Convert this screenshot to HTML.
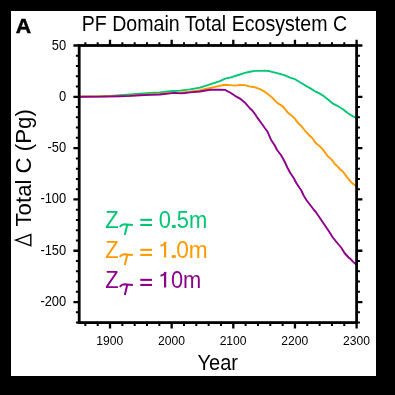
<!DOCTYPE html>
<html><head><meta charset="utf-8"><style>
html,body{margin:0;padding:0;background:#000;width:395px;height:395px;overflow:hidden}
svg{display:block;will-change:transform}
text{font-family:"Liberation Sans",sans-serif}
</style></head><body>
<svg width="395" height="395" viewBox="0 0 395 395">
<rect x="0" y="0" width="395" height="395" fill="#000"/>
<rect x="11" y="11" width="365" height="365" fill="#fff"/>
<text transform="translate(15.85,33.3) scale(1.035,1)" font-size="20.6" font-weight="bold" fill="#000" stroke="#000" stroke-width="0.45">A</text>
<text transform="translate(81.7,30.6) scale(0.9163,1)" font-size="21.4" fill="#000">PF Domain Total Ecosystem C</text>
<g fill="none" stroke-linejoin="round" stroke-linecap="round" stroke-width="1.9">
<polyline points="79.5,96.6 100.0,96.4 110.0,96.0 120.0,95.2 130.0,94.5 140.0,93.8 150.0,93.0 160.0,92.5 170.0,91.3 180.0,90.6 190.0,89.4 200.0,87.6 210.0,84.3 220.0,81.1 225.0,78.6 230.0,77.6 240.0,74.5 245.0,72.9 250.0,71.8 255.0,70.9 260.0,70.9 265.0,70.6 270.0,71.3 275.0,72.6 280.0,73.8 285.0,75.3 290.0,77.7 295.0,79.2 300.0,82.2 305.0,85.3 310.0,88.1 315.0,91.3 318.0,92.6 323.0,95.6 328.0,99.6 333.0,103.7 338.0,106.2 343.0,109.3 348.0,113.3 353.0,116.4 356.5,117.8" stroke="#00c674"/>
<polyline points="79.5,96.7 100.0,96.5 120.0,96.0 130.0,95.7 140.0,95.0 150.0,94.4 160.0,94.0 170.0,92.9 180.0,92.6 190.0,91.6 200.0,90.2 210.0,88.0 215.0,86.9 220.0,85.8 225.0,84.7 230.0,85.1 235.0,85.6 240.0,85.0 245.0,85.1 250.0,86.6 255.0,87.3 260.0,89.1 265.0,91.9 270.0,95.8 272.5,97.8 275.0,100.6 277.5,103.1 280.0,104.6 282.5,106.1 285.0,109.2 287.5,112.2 290.0,114.5 292.5,116.3 295.0,118.9 297.5,122.4 300.0,124.7 302.5,127.5 305.0,130.8 307.0,132.9 310.0,136.1 312.5,138.2 315.0,142.2 317.5,144.6 320.0,146.4 322.5,149.2 325.0,152.3 327.5,156.1 330.0,158.1 332.5,160.7 335.0,164.2 337.5,166.4 340.5,169.8 343.0,171.8 345.5,175.1 348.0,178.4 350.5,181.4 353.0,183.9 356.5,186.0" stroke="#ff9a00"/>
<polyline points="79.5,96.8 100.0,96.6 120.0,96.2 130.0,95.9 140.0,95.2 150.0,94.9 160.0,94.5 170.0,93.4 175.0,92.9 180.0,93.4 185.0,93.0 190.0,92.4 200.0,91.5 210.0,89.7 220.0,89.6 225.0,89.9 230.0,92.5 235.0,95.8 240.0,98.6 245.0,102.7 250.0,108.5 252.5,110.7 255.0,114.1 257.5,117.9 260.0,121.3 262.5,124.7 265.0,128.3 267.5,131.6 271.1,140.0 274.5,145.0 277.1,150.0 280.9,155.0 282.7,158.0 285.3,163.0 287.6,168.0 290.3,173.0 293.7,178.0 296.3,183.0 299.6,188.0 301.1,190.0 303.4,195.0 306.4,200.0 310.2,205.0 314.0,210.0 315.8,212.0 319.2,217.0 322.6,222.0 326.0,227.0 329.4,232.0 332.8,237.5 337.3,243.0 341.5,248.0 344.5,253.0 349.1,258.0 350.0,258.3 352.9,261.6 356.0,264.3" stroke="#8c008c"/>
</g>
<path d="M73.40 302.07H79.20M356.60 302.07H362.40M73.40 250.76H79.20M356.60 250.76H362.40M73.40 199.44H79.20M356.60 199.44H362.40M73.40 148.13H79.20M356.60 148.13H362.40M73.40 96.81H79.20M356.60 96.81H362.40M73.40 45.50H79.20M356.60 45.50H362.40M110.02 322.60V328.40M110.02 39.70V45.50M171.67 322.60V328.40M171.67 39.70V45.50M233.31 322.60V328.40M233.31 39.70V45.50M294.96 322.60V328.40M294.96 39.70V45.50M356.60 322.60V328.40M356.60 39.70V45.50" stroke="#000" stroke-width="2.3" fill="none"/><path d="M75.90 322.60H79.20M356.60 322.60H359.90M75.90 312.34H79.20M356.60 312.34H359.90M75.90 291.81H79.20M356.60 291.81H359.90M75.90 281.55H79.20M356.60 281.55H359.90M75.90 271.29H79.20M356.60 271.29H359.90M75.90 261.02H79.20M356.60 261.02H359.90M75.90 240.50H79.20M356.60 240.50H359.90M75.90 230.23H79.20M356.60 230.23H359.90M75.90 219.97H79.20M356.60 219.97H359.90M75.90 209.71H79.20M356.60 209.71H359.90M75.90 189.18H79.20M356.60 189.18H359.90M75.90 178.92H79.20M356.60 178.92H359.90M75.90 168.66H79.20M356.60 168.66H359.90M75.90 158.39H79.20M356.60 158.39H359.90M75.90 137.87H79.20M356.60 137.87H359.90M75.90 127.60H79.20M356.60 127.60H359.90M75.90 117.34H79.20M356.60 117.34H359.90M75.90 107.08H79.20M356.60 107.08H359.90M75.90 86.55H79.20M356.60 86.55H359.90M75.90 76.29H79.20M356.60 76.29H359.90M75.90 66.03H79.20M356.60 66.03H359.90M75.90 55.76H79.20M356.60 55.76H359.90M85.36 322.60V325.90M85.36 42.20V45.50M97.69 322.60V325.90M97.69 42.20V45.50M122.35 322.60V325.90M122.35 42.20V45.50M134.68 322.60V325.90M134.68 42.20V45.50M147.01 322.60V325.90M147.01 42.20V45.50M159.34 322.60V325.90M159.34 42.20V45.50M184.00 322.60V325.90M184.00 42.20V45.50M196.32 322.60V325.90M196.32 42.20V45.50M208.65 322.60V325.90M208.65 42.20V45.50M220.98 322.60V325.90M220.98 42.20V45.50M245.64 322.60V325.90M245.64 42.20V45.50M257.97 322.60V325.90M257.97 42.20V45.50M270.30 322.60V325.90M270.30 42.20V45.50M282.63 322.60V325.90M282.63 42.20V45.50M307.28 322.60V325.90M307.28 42.20V45.50M319.61 322.60V325.90M319.61 42.20V45.50M331.94 322.60V325.90M331.94 42.20V45.50M344.27 322.60V325.90M344.27 42.20V45.50" stroke="#000" stroke-width="2.0" fill="none"/>
<rect x="79.20" y="45.50" width="277.40" height="277.10" fill="none" stroke="#000" stroke-width="2.8"/>
<g font-size="13.24" fill="#000"><text transform="translate(66.2,49.50) scale(0.975,1.04)" text-anchor="end">50</text><text transform="translate(66.2,100.81) scale(0.975,1.04)" text-anchor="end">0</text><text transform="translate(66.2,152.13) scale(0.975,1.04)" text-anchor="end">-50</text><text transform="translate(66.2,203.44) scale(0.975,1.04)" text-anchor="end">-100</text><text transform="translate(66.2,254.76) scale(0.975,1.04)" text-anchor="end">-150</text><text transform="translate(66.2,306.07) scale(0.975,1.04)" text-anchor="end">-200</text></g><g font-size="12.7" fill="#000"><text transform="translate(109.82,345.15) scale(0.955,1)" text-anchor="middle">1900</text><text transform="translate(171.47,345.15) scale(0.955,1)" text-anchor="middle">2000</text><text transform="translate(233.11,345.15) scale(0.955,1)" text-anchor="middle">2100</text><text transform="translate(294.76,345.15) scale(0.955,1)" text-anchor="middle">2200</text><text transform="translate(356.40,345.15) scale(0.955,1)" text-anchor="middle">2300</text></g>
<text transform="translate(197.5,369.8) scale(0.962,1.03)" font-size="20.8" fill="#000">Year</text>
<text transform="translate(30.8,226.5) rotate(-90) scale(1.0105,1.034)" font-size="22" fill="#000">Total C (Pg)</text>
<path d="M15.6 240.1L30.8 234.5L30.8 245.7Z" fill="none" stroke="#000" stroke-width="1.4"/>
<g fill="#00c674"><text transform="translate(105.14,227.50) scale(0.95,1)" font-size="23.1">Z</text><rect x="140.3" y="218.80" width="11.7" height="2.1"/><rect x="140.3" y="223.90" width="11.7" height="2.1"/><text transform="translate(158.63,227.87) scale(0.947,1)" font-size="23.1">0.5m</text><rect x="171.9" y="225.20" width="3.9" height="2.5"/></g><path d="M119.8 226.80C121.2 225.00 122.6 224.30 124.4 224.30L132.9 224.90M127.3 224.60L124.8 235.00" fill="none" stroke="#00c674" stroke-width="2"/><g fill="#ff9a00"><text transform="translate(105.14,257.50) scale(0.95,1)" font-size="23.1">Z</text><rect x="140.3" y="248.80" width="11.7" height="2.1"/><rect x="140.3" y="253.90" width="11.7" height="2.1"/><path d="M165.1 241.90V257.50" stroke="#ff9a00" stroke-width="2.2" fill="none"/><path d="M165.6 242.00C164.6 244.60 162.8 245.40 160.5 245.70" stroke="#ff9a00" stroke-width="2.0" fill="none"/><text transform="translate(169.86,257.87) scale(0.983,1)" font-size="23.1">.0m</text><rect x="171.9" y="255.20" width="3.9" height="2.5"/></g><path d="M119.8 256.80C121.2 255.00 122.6 254.30 124.4 254.30L132.9 254.90M127.3 254.60L124.8 265.00" fill="none" stroke="#ff9a00" stroke-width="2"/><g fill="#8c008c"><text transform="translate(105.14,287.50) scale(0.95,1)" font-size="23.1">Z</text><rect x="140.3" y="278.80" width="11.7" height="2.1"/><rect x="140.3" y="283.90" width="11.7" height="2.1"/><path d="M165.1 271.90V287.50" stroke="#8c008c" stroke-width="2.2" fill="none"/><path d="M165.6 272.00C164.6 274.60 162.8 275.40 160.5 275.70" stroke="#8c008c" stroke-width="2.0" fill="none"/><text transform="translate(170.95,287.87) scale(0.946,1)" font-size="23.1">0m</text></g><path d="M119.8 286.80C121.2 285.00 122.6 284.30 124.4 284.30L132.9 284.90M127.3 284.60L124.8 295.00" fill="none" stroke="#8c008c" stroke-width="2"/>
</svg>
</body></html>
